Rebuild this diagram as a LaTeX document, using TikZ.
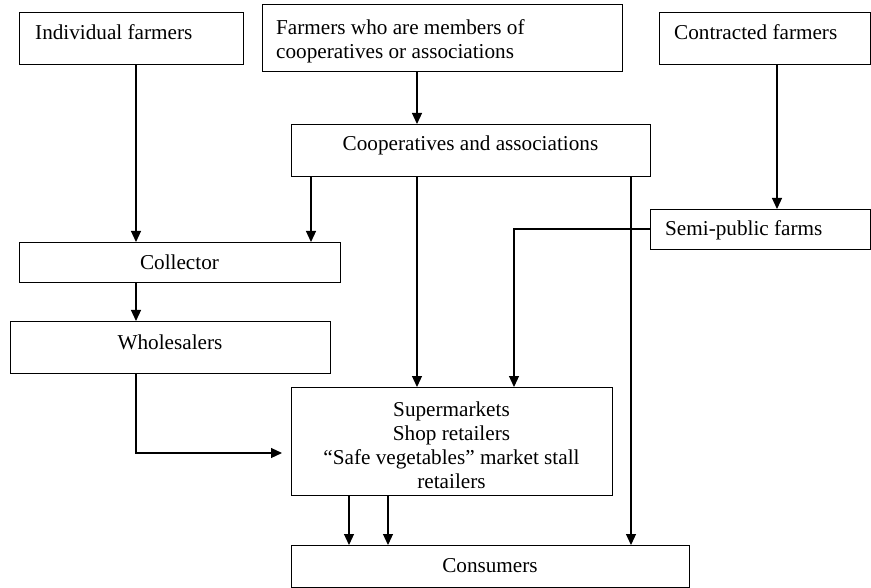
\documentclass[tikz,border=0pt]{standalone}
\usepackage{fontspec}
\setmainfont{Liberation Serif}
\usetikzlibrary{arrows.meta}
\begin{document}
\begin{tikzpicture}[x=1pt,y=-1pt,
  box/.style={draw, line width=1.2pt, rectangle, inner sep=0pt, anchor=north west},
  txt/.style={inner sep=0pt, font=\fontsize{21.2}{24}\selectfont},
  arr/.style={line width=1.2pt, -{Triangle[length=11pt,width=10pt]}},
  ln/.style={line width=1.2pt}]
\useasboundingbox (0,0) rectangle (871,588);
% boxes
\node[box, minimum width=224pt, minimum height=52pt] (indiv) at (19,12) {};
\node[box, minimum width=360pt, minimum height=67pt] (memb) at (262,4) {};
\node[box, minimum width=211pt, minimum height=52pt] (contr) at (659,12) {};
\node[box, minimum width=359pt, minimum height=52pt] (coop) at (291,124) {};
\node[box, minimum width=321pt, minimum height=40pt] (coll) at (19,242) {};
\node[box, minimum width=220pt, minimum height=40pt] (semi) at (650,209) {};
\node[box, minimum width=320pt, minimum height=52pt] (whole) at (10,321) {};
\node[box, minimum width=321pt, minimum height=108pt] (super) at (291,387) {};
\node[box, minimum width=398pt, minimum height=42pt] (cons) at (291,545) {};
% texts
\node[txt, anchor=base west] (tindiv) at (35,40) {Individual farmers};
\node[txt, anchor=north west, align=left] (tmemb) at (276,19.5) {Farmers who are members of\\cooperatives or associations};
\node[txt, anchor=base west] (tcontr) at (674,40) {Contracted farmers};
\node[txt, anchor=base] (tcoop) at (470.5,151) {Cooperatives and associations};
\node[txt, anchor=base] (tcoll) at (179.5,270) {Collector};
\node[txt, anchor=base west] (tsemi) at (665,236) {Semi-public farms};
\node[txt, anchor=base] (twhole) at (170,349) {Wholesalers};
\node[txt, anchor=north, align=center] (tsuper) at (451.5,401.3) {Supermarkets\\Shop retailers\\``Safe vegetables'' market stall\\retailers};
\node[txt, anchor=base] (tcons) at (490,572) {Consumers};
% connector x positions
\coordinate (xA) at (136,0);
\coordinate (xB) at (311,0);
\coordinate (xC) at (417,0);
\coordinate (xD) at (514,0);
\coordinate (xE) at (631,0);
\coordinate (xF) at (777,0);
\coordinate (xG) at (349,0);
\coordinate (xH) at (388,0);
\coordinate (yW) at (0,453);
\coordinate (yS) at (0,229);
% connectors
\draw[arr] (indiv.south -| xA) -- (coll.north -| xA);
\draw[arr] (memb.south -| xC) -- (coop.north -| xC);
\draw[arr] (contr.south -| xF) -- (semi.north -| xF);
\draw[arr] (coop.south -| xB) -- (coll.north -| xB);
\draw[arr] (coop.south -| xC) -- (super.north -| xC);
\draw[arr] (coop.south -| xE) -- (cons.north -| xE);
\draw[arr] (semi.west |- yS) -| (super.north -| xD);
\draw[arr] (coll.south -| xA) -- (whole.north -| xA);
\draw[arr, shorten >=9pt] (whole.south -| xA) |- (super.west |- yW);
\draw[arr] (super.south -| xG) -- (cons.north -| xG);
\draw[arr] (super.south -| xH) -- (cons.north -| xH);
\end{tikzpicture}
\end{document}
